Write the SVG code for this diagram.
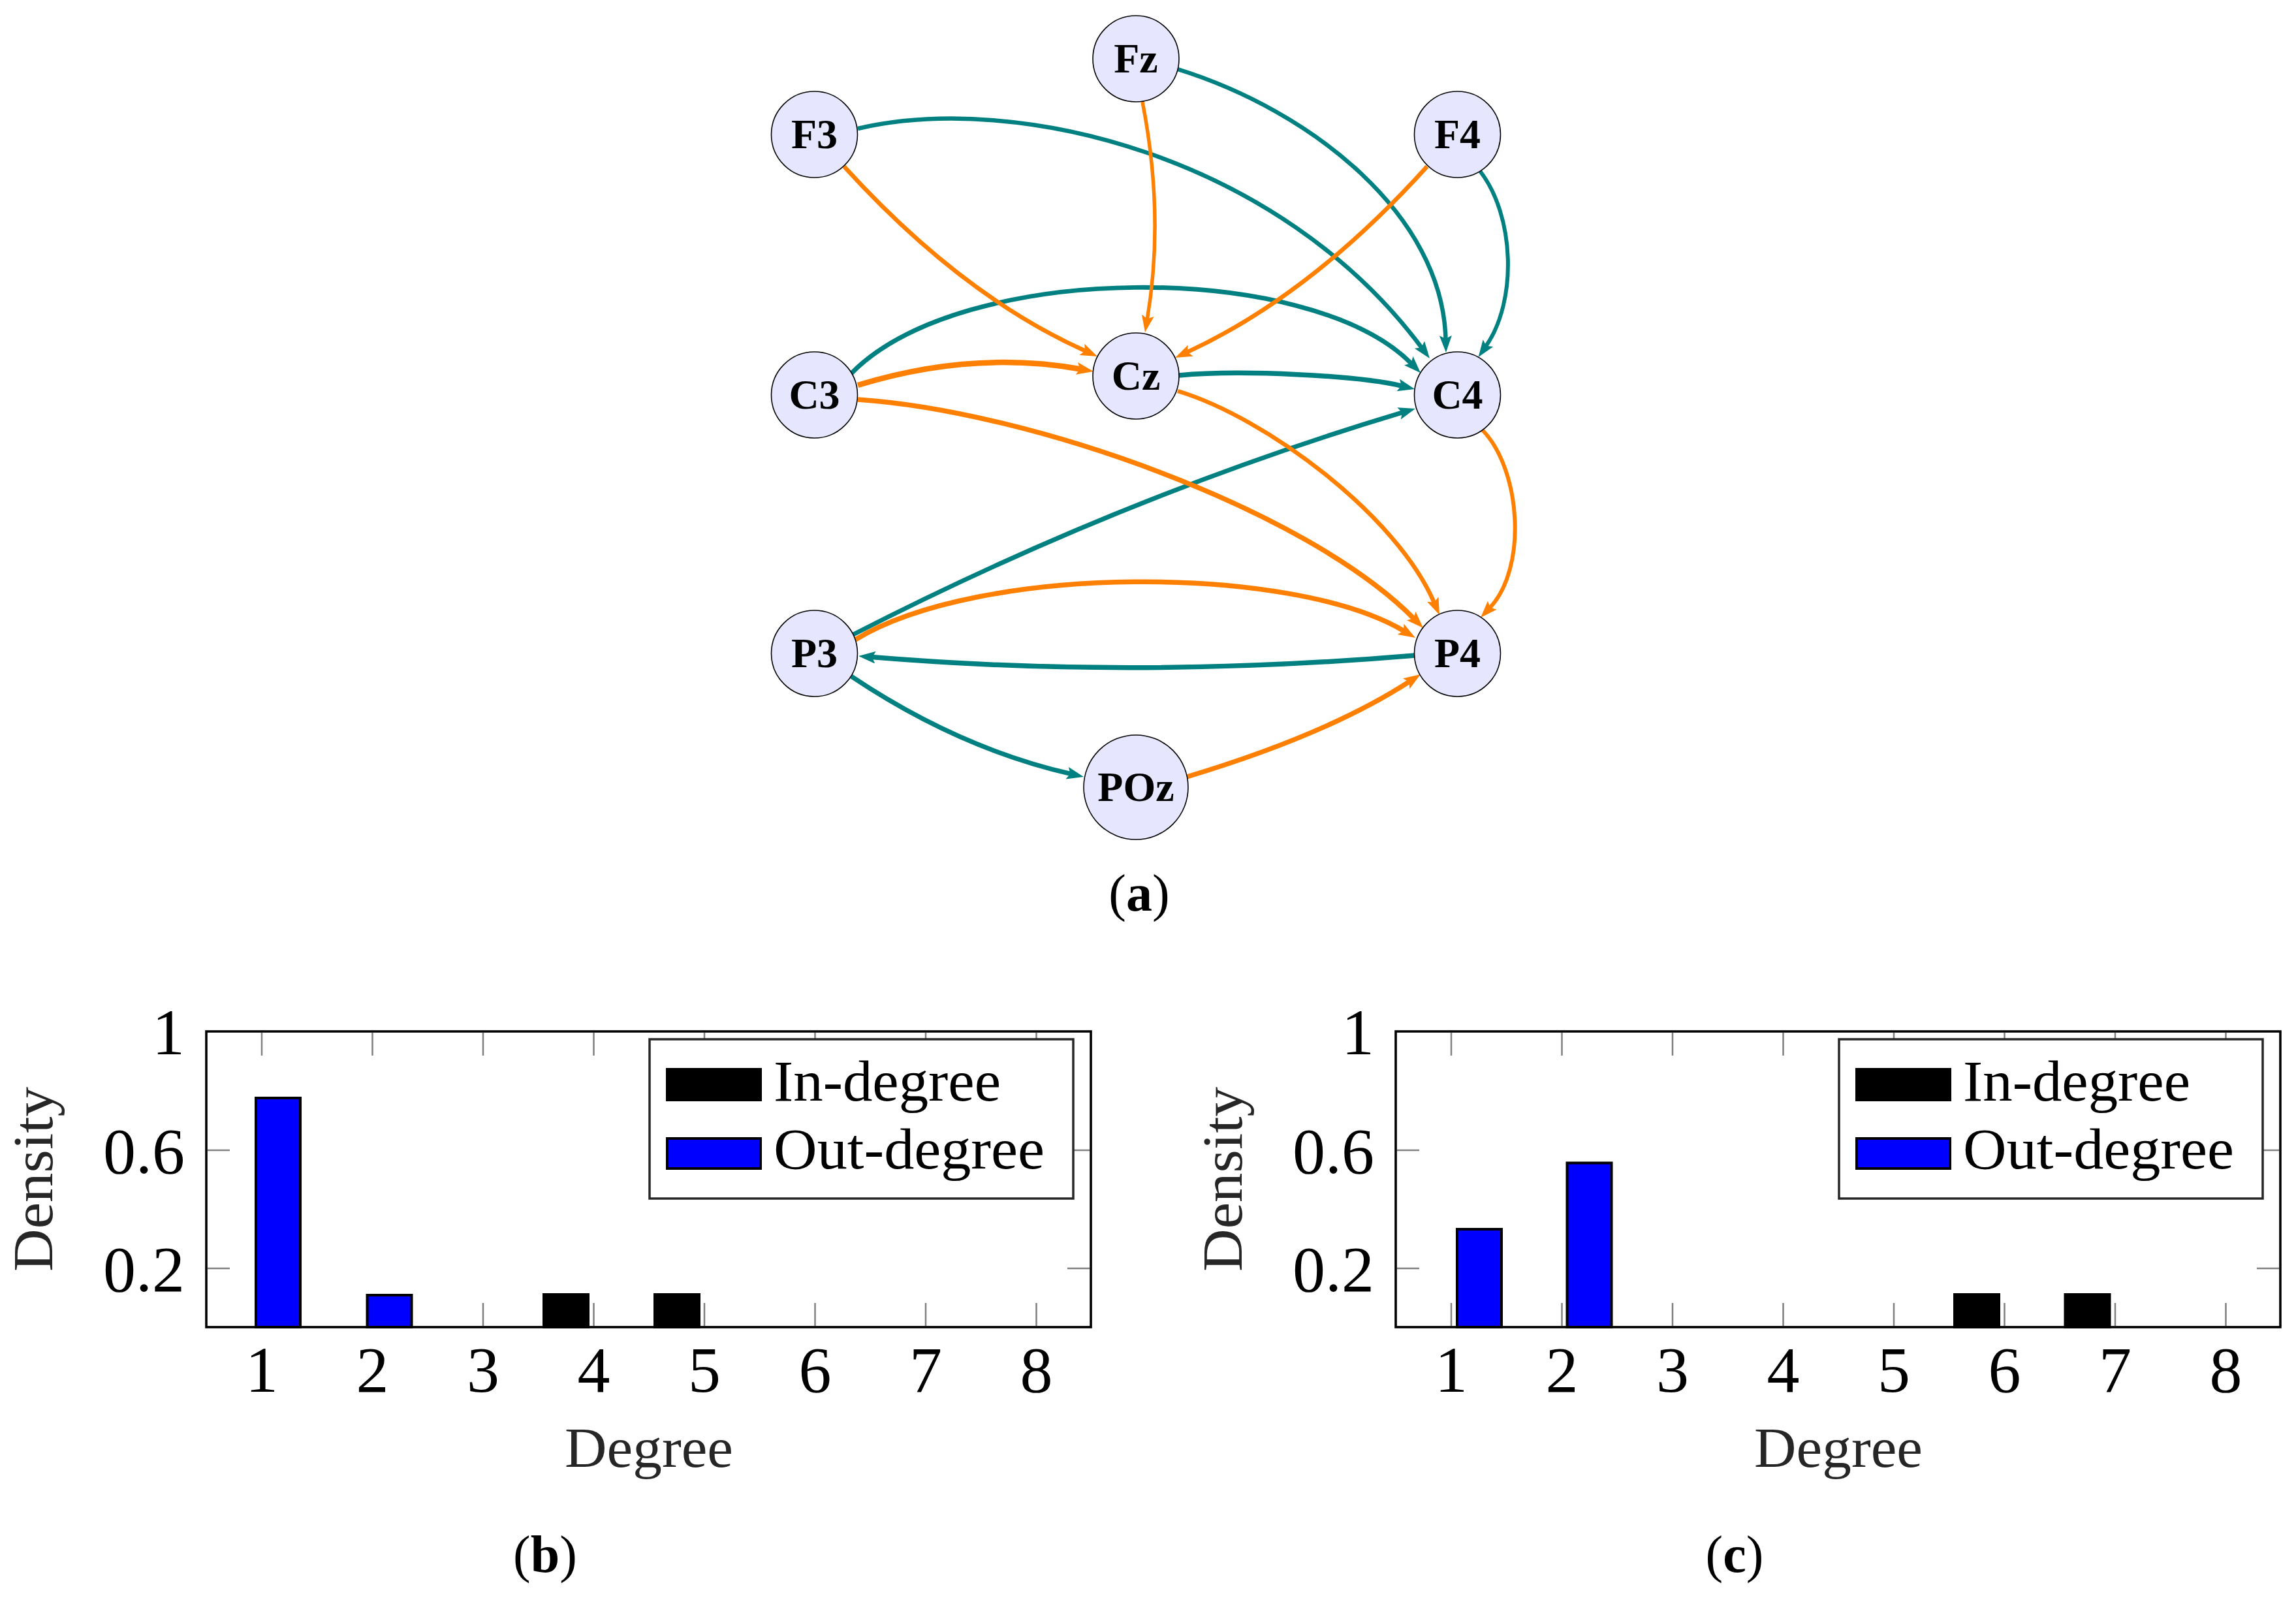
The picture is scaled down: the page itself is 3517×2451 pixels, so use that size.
<svg xmlns="http://www.w3.org/2000/svg" width="3517" height="2451" viewBox="0 0 3517 2451">
<style>
.node circle{fill:#e6e6ff;stroke:#000;stroke-width:1.6}
.node text{font-family:"Liberation Serif",serif;font-weight:bold;font-size:64px;text-anchor:middle;fill:#000}
.t{fill:none;stroke:#008080;marker-end:url(#at)}
.o{fill:none;stroke:#ff8000;marker-end:url(#ao)}
.tick{stroke:#808080;stroke-width:2.5;fill:none}
.frame{fill:none;stroke:#000;stroke-width:3.6}
.lab{font-family:"Liberation Serif",serif;font-size:100px;fill:#000}
.xl{text-anchor:middle}
.yl{text-anchor:end}
.axl{font-family:"Liberation Serif",serif;font-size:86px;fill:#262626;text-anchor:middle}
.leg{fill:#fff;stroke:#262626;stroke-width:3.5}
.legt{font-family:"Liberation Serif",serif;font-size:88px;fill:#000}
.bin{fill:#000;stroke:#000;stroke-width:4}
.bout{fill:#0000ff;stroke:#000;stroke-width:4}
.cap{font-family:"Liberation Serif",serif;font-size:80px;text-anchor:middle;fill:#000}
</style>
<defs>
<marker id="at" markerUnits="userSpaceOnUse" markerWidth="30" markerHeight="22" refX="6" refY="9.5" orient="auto"><path d="M0,0 L26,9.5 L0,19 L5,9.5 z" fill="#008080"/></marker>
<marker id="ao" markerUnits="userSpaceOnUse" markerWidth="30" markerHeight="22" refX="6" refY="9.5" orient="auto"><path d="M0,0 L26,9.5 L0,19 L5,9.5 z" fill="#ff8000"/></marker>
</defs>
<rect x="0" y="0" width="3517" height="2451" fill="#fff"/>
<g id="connectors">
<path class="t" stroke-width="6.5" d="M1804,106 C2010,170 2210,330 2214.5,520"/>
<path class="t" stroke-width="6.5" d="M1314,197 C1560,140 1960,240 2178,533"/>
<path class="t" stroke-width="6" d="M2267,262 C2320,330 2325,460 2276,530.5"/>
<path class="t" stroke-width="7" d="M1304,572 C1474,399 2006,399 2162,557"/>
<path class="t" stroke-width="7.5" d="M1806,575 C1900,566 2080,575 2147.6,591.3"/>
<path class="t" stroke-width="7" d="M1307,972 Q1720,760 2148.8,631.7"/>
<path class="t" stroke-width="7.5" d="M2168,1004 Q1740,1040 1335,1006.6"/>
<path class="t" stroke-width="7" d="M1304,1036 Q1468,1146 1640.5,1185.5"/>
<path class="o" stroke-width="5.5" d="M1750,156 Q1784,330 1757.3,489.3"/>
<path class="o" stroke-width="6.5" d="M1293,255 Q1472,452 1662.8,537.8"/>
<path class="o" stroke-width="6.5" d="M2186,255 Q2008,452 1818.2,539.6"/>
<path class="o" stroke-width="8.5" d="M1314,590 Q1490,536 1655.3,565.5"/>
<path class="o" stroke-width="7.5" d="M1314,612 C1580,630 2000,780 2166,947.8"/>
<path class="o" stroke-width="6.5" d="M1804,599 C1940,640 2140,790 2197.1,923.6"/>
<path class="o" stroke-width="6" d="M2271,659 C2330,720 2340,870 2281.8,931.5"/>
<path class="o" stroke-width="7.5" d="M1310,980 C1500,864 1978,864 2150.8,966.8"/>
<path class="o" stroke-width="7.5" d="M1818,1190 Q2034,1125 2159.2,1043.9"/>
</g>
<g id="node-Fz" class="node"><circle cx="1740" cy="90" r="66"/><text x="1740" y="111">Fz</text></g>
<g id="node-F3" class="node"><circle cx="1247.5" cy="206" r="66"/><text x="1247.5" y="227">F3</text></g>
<g id="node-F4" class="node"><circle cx="2232.5" cy="206" r="66"/><text x="2232.5" y="227">F4</text></g>
<g id="node-C3" class="node"><circle cx="1247.5" cy="605" r="66"/><text x="1247.5" y="626">C3</text></g>
<g id="node-Cz" class="node"><circle cx="1740" cy="576" r="66"/><text x="1740" y="597">Cz</text></g>
<g id="node-C4" class="node"><circle cx="2232.5" cy="605" r="66"/><text x="2232.5" y="626">C4</text></g>
<g id="node-P3" class="node"><circle cx="1247.5" cy="1001" r="66"/><text x="1247.5" y="1022">P3</text></g>
<g id="node-P4" class="node"><circle cx="2232.5" cy="1001" r="66"/><text x="2232.5" y="1022">P4</text></g>
<g id="node-POz" class="node"><circle cx="1740" cy="1206" r="80"/><text x="1740" y="1227">POz</text></g>
<text class="cap" x="1745" y="1395">(<tspan font-weight="bold">a</tspan>)</text>

<g id="chart-b">
<path class="tick" d="M401,1582v35M570.5,1582v35M740,1582v35M909.5,1582v35M1079,1582v35M1248.5,1582v35M1418,1582v35M1587.5,1582v35M401,2031v-35M570.5,2031v-35M740,2031v-35M909.5,2031v-35M1079,2031v-35M1248.5,2031v-35M1418,2031v-35M1587.5,2031v-35M318,1762h34M318,1943h34M1669,1762h-34M1669,1943h-34"/>
<rect class="bout" x="392" y="1682" width="68" height="351"/>
<rect class="bout" x="562.5" y="1984" width="68" height="49"/>
<rect class="bin" x="833" y="1983" width="68" height="50"/>
<rect class="bin" x="1003" y="1983" width="68" height="50"/>
<rect class="frame" x="316" y="1580" width="1355" height="453"/>
<rect class="leg" x="995" y="1592" width="649" height="244"/>
<rect class="bin" x="1022" y="1638" width="143" height="47"/>
<rect class="bout" x="1022" y="1744" width="143" height="46"/>
<text class="legt" x="1185" y="1686" textLength="348" lengthAdjust="spacingAndGlyphs">In-degree</text>
<text class="legt" x="1185" y="1790" textLength="415" lengthAdjust="spacingAndGlyphs">Out-degree</text>
<text class="lab yl" x="283" y="1615">1</text>
<text class="lab yl" x="283" y="1797">0.6</text>
<text class="lab yl" x="283" y="1978">0.2</text>
<text class="lab xl" x="401" y="2132">1</text>
<text class="lab xl" x="570.5" y="2132">2</text>
<text class="lab xl" x="740" y="2132">3</text>
<text class="lab xl" x="909.5" y="2132">4</text>
<text class="lab xl" x="1079" y="2132">5</text>
<text class="lab xl" x="1248.5" y="2132">6</text>
<text class="lab xl" x="1418" y="2132">7</text>
<text class="lab xl" x="1587.5" y="2132">8</text>
<text class="axl" x="994" y="2247" textLength="258" lengthAdjust="spacingAndGlyphs">Degree</text>
<text class="axl" transform="translate(80,1806.5) rotate(-90)" x="0" y="0" textLength="283" lengthAdjust="spacingAndGlyphs">Density</text>
<text class="cap" x="835" y="2408">(<tspan font-weight="bold">b</tspan>)</text>
</g>

<g id="chart-c">
<g transform="translate(1822,0)">
<path class="tick" d="M401,1582v35M570.5,1582v35M740,1582v35M909.5,1582v35M1079,1582v35M1248.5,1582v35M1418,1582v35M1587.5,1582v35M401,2031v-35M570.5,2031v-35M740,2031v-35M909.5,2031v-35M1079,2031v-35M1248.5,2031v-35M1418,2031v-35M1587.5,2031v-35M318,1762h34M318,1943h34M1669,1762h-34M1669,1943h-34"/>
</g>
<rect class="bout" x="2232" y="1883" width="68" height="150"/>
<rect class="bout" x="2400.5" y="1781.5" width="68" height="251.5"/>
<rect class="bin" x="2994" y="1983" width="68" height="50"/>
<rect class="bin" x="3163.5" y="1983" width="68" height="50"/>
<g transform="translate(1822,0)">
<rect class="frame" x="316" y="1580" width="1355" height="453"/>
<rect class="leg" x="995" y="1592" width="649" height="244"/>
<rect class="bin" x="1022" y="1638" width="143" height="47"/>
<rect class="bout" x="1022" y="1744" width="143" height="46"/>
<text class="legt" x="1185" y="1686" textLength="348" lengthAdjust="spacingAndGlyphs">In-degree</text>
<text class="legt" x="1185" y="1790" textLength="415" lengthAdjust="spacingAndGlyphs">Out-degree</text>
<text class="lab yl" x="283" y="1615">1</text>
<text class="lab yl" x="283" y="1797">0.6</text>
<text class="lab yl" x="283" y="1978">0.2</text>
<text class="lab xl" x="401" y="2132">1</text>
<text class="lab xl" x="570.5" y="2132">2</text>
<text class="lab xl" x="740" y="2132">3</text>
<text class="lab xl" x="909.5" y="2132">4</text>
<text class="lab xl" x="1079" y="2132">5</text>
<text class="lab xl" x="1248.5" y="2132">6</text>
<text class="lab xl" x="1418" y="2132">7</text>
<text class="lab xl" x="1587.5" y="2132">8</text>
<text class="axl" x="994" y="2247" textLength="258" lengthAdjust="spacingAndGlyphs">Degree</text>
<text class="axl" transform="translate(80,1806.5) rotate(-90)" x="0" y="0" textLength="283" lengthAdjust="spacingAndGlyphs">Density</text>
<text class="cap" x="835" y="2408">(<tspan font-weight="bold">c</tspan>)</text>
</g>
</g>
</svg>
